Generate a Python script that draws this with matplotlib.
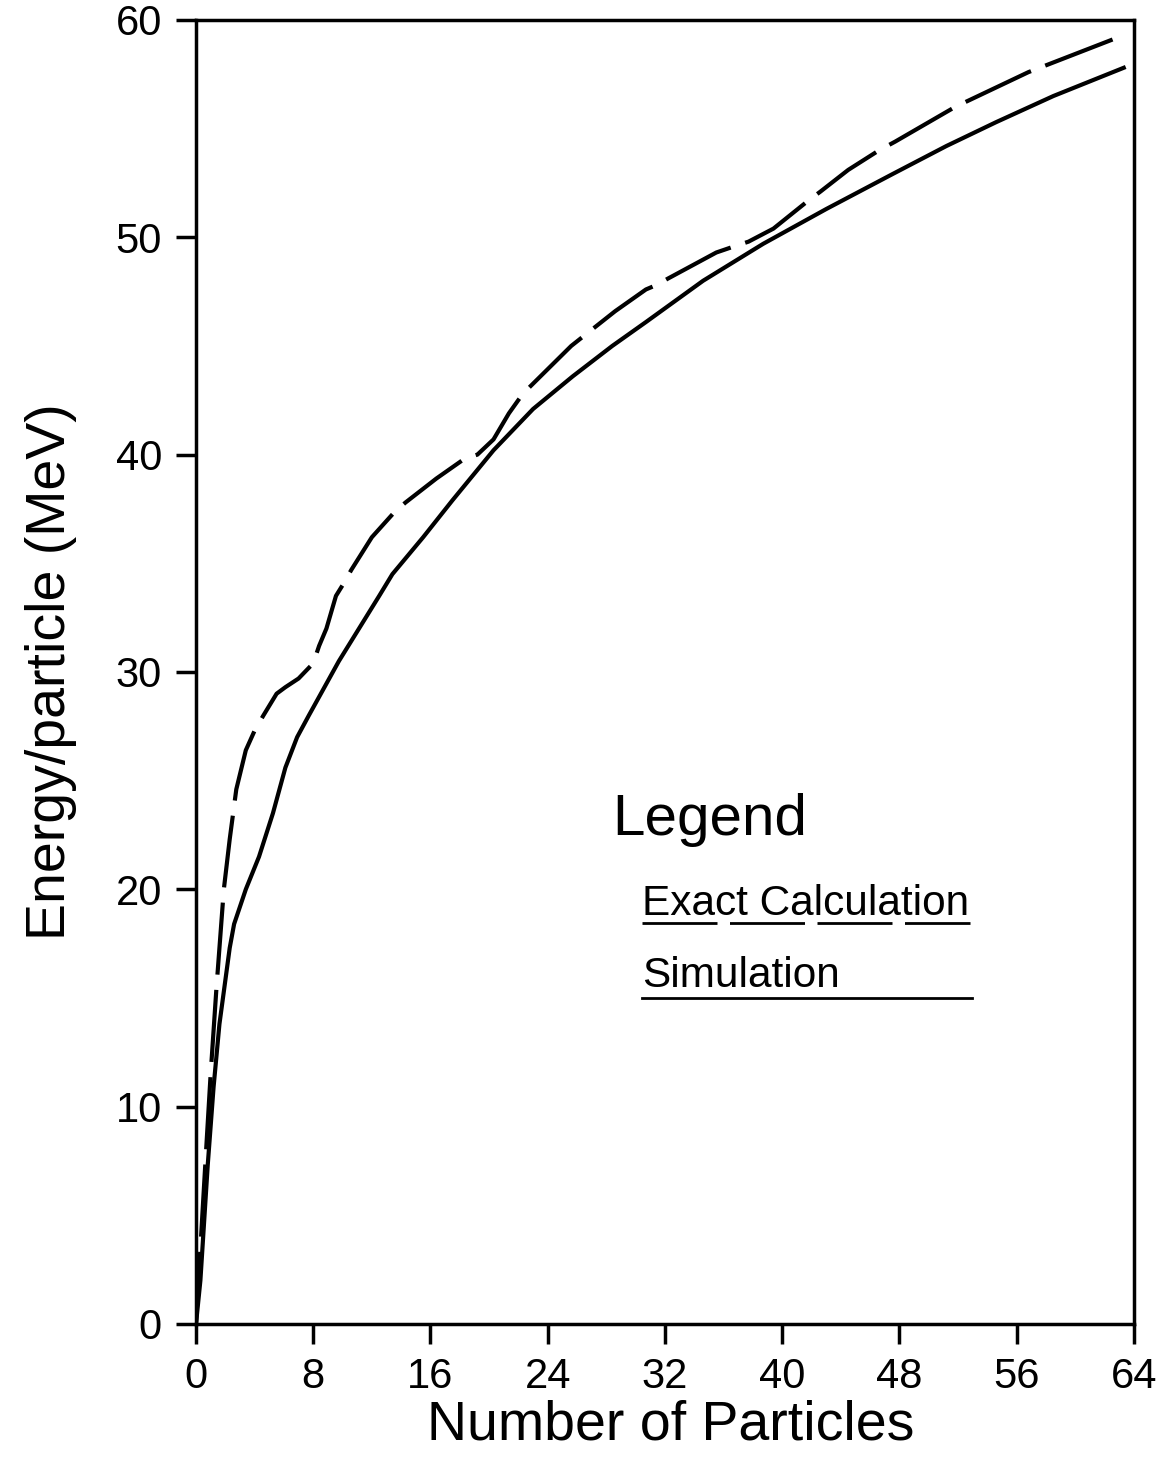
import matplotlib
matplotlib.use("Agg")
import matplotlib.pyplot as plt

plt.rcParams['font.family'] = ['Liberation Sans', 'DejaVu Sans']
plt.rcParams['lines.scale_dashes'] = False

# Simulation (solid line)
sim_x = [0, 0.3, 0.8, 1.2, 1.6, 2.3, 2.6, 3.4, 4.3, 5.25, 6.1, 6.9, 7.7,
         9.75, 12.5, 13.4, 15.5, 17.5, 20.3, 23.0, 25.7, 28.4, 30.7, 34.6,
         38.7, 43.0, 47.5, 51.2, 54.6, 58.5, 63.3]
sim_y = [0, 2.0, 7.3, 10.9, 13.8, 17.3, 18.4, 20.0, 21.5, 23.5, 25.6, 27.0,
         28.0, 30.5, 33.5, 34.5, 36.2, 37.9, 40.2, 42.1, 43.6, 45.0, 46.1,
         48.0, 49.7, 51.3, 52.9, 54.2, 55.3, 56.5, 57.8]

# Exact calculation (dashed line)
exact_x = [0, 0.7, 1.0, 1.4, 1.6, 1.9, 2.3, 2.75, 3.4, 4.0, 4.6, 5.5, 6.1,
           7.0, 8.0, 8.4, 8.9, 9.55, 10.1, 10.6, 12.0, 13.6, 14.3, 16.4,
           18.3, 19.2, 20.3, 21.35, 22.3, 22.9, 25.6, 28.6, 30.7, 31.4, 32.2,
           35.5, 36.8, 37.7, 39.4, 41.8, 42.6, 44.5, 46.6, 47.7, 51.8, 56.8,
           63.3]
exact_y = [0, 8.1, 11.5, 15.5, 17.3, 20.0, 22.3, 24.6, 26.4, 27.3, 28.0,
           29.0, 29.3, 29.7, 30.4, 31.2, 32.0, 33.5, 34.1, 34.7, 36.2, 37.4,
           37.8, 38.9, 39.8, 40.0, 40.7, 41.9, 42.8, 43.2, 45.0, 46.6, 47.6,
           47.8, 48.1, 49.3, 49.6, 49.8, 50.4, 51.7, 52.1, 53.1, 54.0, 54.4,
           56.0, 57.6, 59.3]

x_ticks = [0, 8, 16, 24, 32, 40, 48, 56, 64]
y_ticks = [0, 10, 20, 30, 40, 50, 60]

fig = plt.figure(figsize=(11.75, 14.57), dpi=100)
ax = fig.add_axes([0.1668, 0.0913, 0.7983, 0.895])

ax.plot(exact_x, exact_y, color='black', lw=3, dashes=(52, 11))
ax.plot(sim_x, sim_y, color='black', lw=3)

ax.set_xlim(0, 64)
ax.set_ylim(0, 60)
ax.set_xticks(x_ticks)
ax.set_yticks(y_ticks)
for sp in ax.spines.values():
    sp.set_linewidth(2.5)
ax.tick_params(direction='out', length=14.5, width=2.5, labelsize=30,
               top=False, right=False)
ax.tick_params(axis='x', pad=9)
ax.tick_params(axis='y', pad=10)

ax.set_xlabel('Number of Particles', fontsize=40)
ax.xaxis.set_label_coords(0.506, -0.058)
ax.set_ylabel('Energy/particle (MeV)', fontsize=40)
ax.yaxis.set_label_coords(-0.127, 0.5)

# hand-made legend
ax.text(0.4435, 0.375, 'Legend', fontsize=42, transform=ax.transAxes,
        va='baseline')
ax.text(0.4755, 0.3137, 'Exact Calculation', fontsize=30.5,
        transform=ax.transAxes, va='baseline')
ax.plot([0.4755, 0.8252], [0.3075, 0.3075], transform=ax.transAxes,
        color='black', lw=2, dashes=(54, 9))
ax.text(0.4755, 0.2584, 'Simulation', fontsize=30.5,
        transform=ax.transAxes, va='baseline')
ax.plot([0.4755, 0.8273], [0.25, 0.25], transform=ax.transAxes,
        color='black', lw=2)

fig.savefig('out.png', dpi=100)
